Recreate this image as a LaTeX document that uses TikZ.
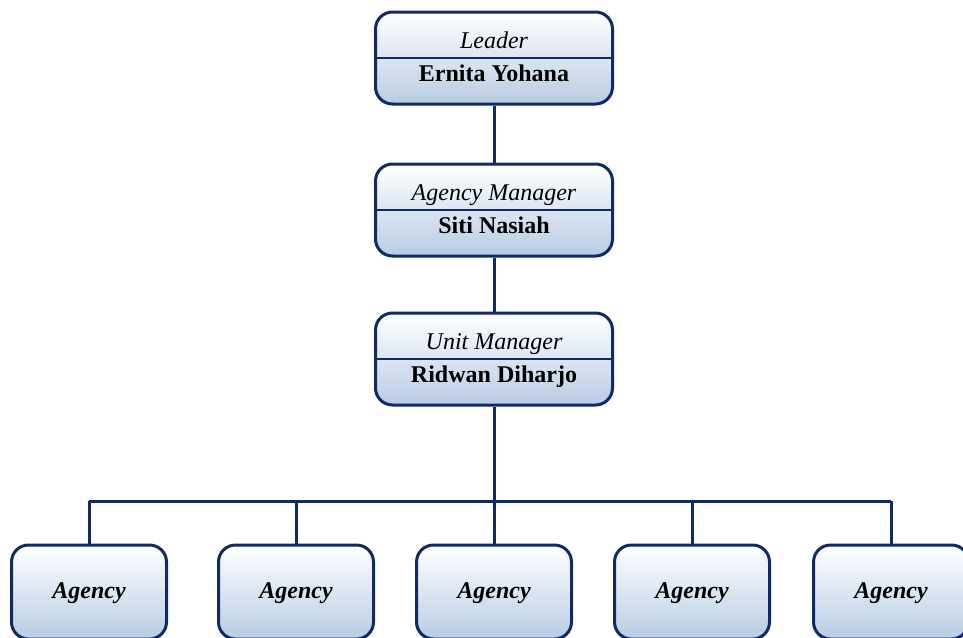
\documentclass[tikz,border=0pt]{standalone}
\usepackage{fontspec}
\setmainfont{Liberation Serif}
\definecolor{navy}{RGB}{16,42,104}
\definecolor{paleblue}{RGB}{184,204,228}
\begin{document}
\begin{tikzpicture}[x=1pt,y=-1pt,
  box/.style={draw=navy, line width=3pt, rounded corners=17pt, top color=white, bottom color=paleblue, inner sep=0pt},
  topbox/.style={box, minimum width=237pt, minimum height=92pt},
  agbox/.style={box, minimum width=155pt, minimum height=94pt},
  role/.style={font=\fontsize{24}{28}\selectfont\itshape, anchor=base, inner sep=0pt},
  person/.style={font=\fontsize{24}{28}\selectfont\bfseries, anchor=base, inner sep=0pt},
  agtext/.style={font=\fontsize{24}{28}\selectfont\bfseries\itshape, anchor=base, inner sep=0pt},
  link/.style={draw=navy, line width=3pt},
  divider/.style={draw=navy, line width=2.4pt}]
\useasboundingbox (0,0) rectangle (963,637);
\clip (0,0) rectangle (963,637);
% top boxes
\node[topbox] (b1) at (494,58) {};
\node[topbox] (b2) at (494,210) {};
\node[topbox] (b3) at (494,359) {};
\foreach \n in {b1,b2,b3}{
  \draw[divider] (\n.west) -- (\n.east);
}
\node[role] (r1) at ([yshift=10pt]b1.center) {Leader};
\node[person] (p1) at ([yshift=-23pt]b1.center) {Ernita Yohana};
\node[role] (r2) at ([yshift=10pt]b2.center) {Agency Manager};
\node[person] (p2) at ([yshift=-23pt]b2.center) {Siti Nasiah};
\node[role] (r3) at ([yshift=10pt]b3.center) {Unit Manager};
\node[person] (p3) at ([yshift=-23pt]b3.center) {Ridwan Diharjo};
% agency boxes
\node[agbox] (a1) at (89,592) {};
\node[agbox] (a2) at (296,592) {};
\node[agbox] (a3) at (494,592) {};
\node[agbox] (a4) at (692,592) {};
\node[agbox] (a5) at (891,592) {};
\foreach \n in {a1,a2,a3,a4,a5}{
  \node[agtext] at ([yshift=-6pt]\n.center) {Agency};
}
% connectors
\coordinate (h) at (494,501);
\draw[link] (b1.south) -- (b2.north);
\draw[link] (b2.south) -- (b3.north);
\draw[link] (b3.south) -- (h);
\draw[link] (a1.north |- h) -- (a5.north |- h);
\foreach \n in {a1,a2,a3,a4,a5}{
  \draw[link] (\n.north |- h) -- (\n.north);
}
\end{tikzpicture}
\end{document}
